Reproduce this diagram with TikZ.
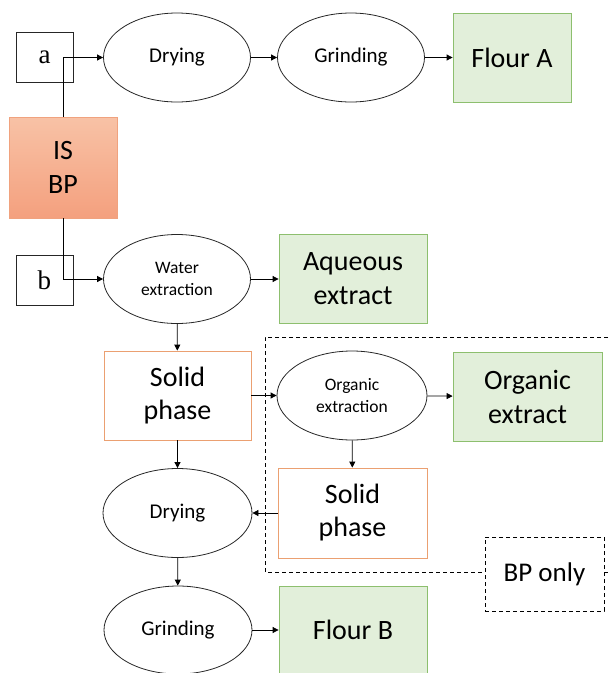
\documentclass[tikz,border=0pt]{standalone}
\usepackage{fontspec}
\setmainfont{Carlito}
\newfontfamily\serifx{Liberation Serif}
\usetikzlibrary{shapes.geometric,arrows.meta}
\definecolor{gfill}{HTML}{E2EFDA}
\definecolor{gdraw}{HTML}{8DBF6E}
\definecolor{odraw}{HTML}{EBA071}
\definecolor{stop}{HTML}{F8C2A6}
\definecolor{sbot}{HTML}{F4A07E}
\definecolor{sdraw}{HTML}{F0A27E}
\begin{document}
\begin{tikzpicture}[x=1pt,y=-1pt,
  every node/.style={inner sep=0pt,align=center},
  ell/.style={ellipse,draw=black!85,line width=0.8pt,minimum width=147pt,minimum height=89pt},
  prod/.style={rectangle,draw=gdraw,fill=gfill,line width=0.8pt,minimum width=148pt,minimum height=89pt,font=\fontsize{28}{34}\selectfont},
  solid/.style={rectangle,draw=odraw,fill=white,line width=0.8pt,minimum width=148pt,minimum height=89pt,font=\fontsize{28}{33}\selectfont},
  lbox/.style={rectangle,draw=black!85,fill=white,line width=0.8pt,minimum width=57pt,minimum height=50pt,font=\serifx\fontsize{27}{30}\selectfont},
  big/.style={font=\fontsize{21}{25}\selectfont},
  small/.style={font=\fontsize{17.5}{22}\selectfont},
  conn/.style={line width=0.8pt,-{Triangle[length=6pt,width=6pt]}},
  dsh/.style={dashed,line width=0.8pt,dash pattern=on 4pt off 3pt}]
\useasboundingbox (0,0) rectangle (609,673);
% dashed region (right side runs off the picture)
\coordinate (d0) at (615,337);
\coordinate (d1) at (265,337);
\coordinate (d2) at (265,572);
\coordinate (d3) at (615,572);
\draw[dsh] (d0) -- (d1) -- (d2) -- (d3);
% nodes
\node[lbox] (a) at (44.5,57.5) {a};
\node[lbox] (b) at (44.5,280) {b};
\node[rectangle,draw=sdraw,top color=stop,bottom color=sbot,line width=0.8pt,minimum width=108pt,minimum height=101pt,font=\fontsize{28}{34}\selectfont] (isbp) at (63,167.5) {IS\\BP};
\node[ell,big] (dry1) at (177,57.5) {Drying};
\node[ell,big] (grind1) at (351,57.5) {Grinding};
\node[prod,minimum width=118pt] (flourA) at (512,57.5) {Flour A};
\node[ell,small] (water) at (177,279) {Water\\extraction};
\node[prod] (aq) at (353,279) {Aqueous\\extract};
\node[solid,minimum width=147pt] (sp1) at (177.5,395.5) {Solid\\phase};
\node[ell,small,minimum width=150pt] (org) at (352,395.5) {Organic\\extraction};
\node[prod,minimum width=149pt] (orgx) at (527.5,396.5) {Organic\\extract};
\node[solid,minimum width=149pt,minimum height=90pt] (sp2) at (352.5,513) {Solid\\phase};
\node[ell,big,minimum width=149pt] (dry2) at (177.5,513) {Drying};
\node[ell,big,minimum width=148pt,minimum height=88pt] (grind2) at (178,630) {Grinding};
\node[prod,minimum width=148pt,minimum height=88pt] (flourB) at (353,630) {Flour B};
\node[rectangle,draw=black,dsh,fill=white,minimum width=119pt,minimum height=74pt,font=\fontsize{27}{32}\selectfont] (bponly) at (544.5,574) {BP only};
% connectors
\draw[conn] (isbp.north) |- (dry1.west);
\draw[conn] (isbp.south) |- (water.west);
\draw[conn] (dry1) -- (grind1);
\draw[conn] (grind1) -- (flourA);
\draw[conn] (water) -- (aq);
\draw[conn] (water) -- (sp1);
\draw[conn] (sp1) -- (org);
\draw[conn] (org) -- (orgx);
\draw[conn] (org) -- (sp2);
\draw[conn] (sp2) -- (dry2);
\draw[conn] (sp1) -- (dry2);
\draw[conn] (dry2) -- (grind2);
\draw[conn] (grind2) -- (flourB);
\end{tikzpicture}
\end{document}
